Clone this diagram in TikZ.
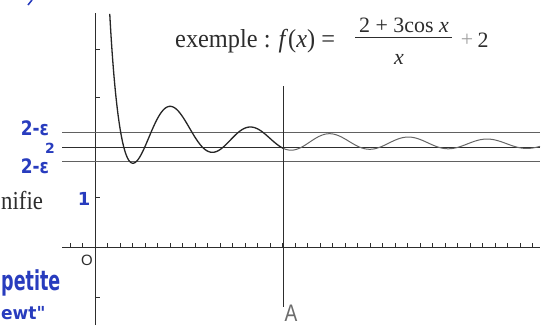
\documentclass[tikz,border=0pt]{standalone}
\usepackage{fontspec}
\setmainfont{Liberation Serif}
\newfontfamily\handf{DejaVu Sans}
\newfontfamily\sansf{Liberation Sans}
\usepackage{graphicx}
\definecolor{ink}{RGB}{40,60,190}
\definecolor{prnt}{RGB}{45,45,45}
\tikzset{
  axisline/.style={draw=prnt, line width=0.9bp},
  tickline/.style={draw=prnt, line width=0.8bp},
  hline/.style={draw=prnt, line width=0.9bp},
  hlinefaint/.style={draw=prnt!75, line width=0.8bp},
  curveA/.style={draw=black!85, line width=1.3bp},
  curveB/.style={draw=black!60, line width=1.0bp},
  printtext/.style={text=prnt, inner sep=0pt, font=\fontsize{26}{28}\selectfont},
  formula/.style={text=prnt, inner sep=0pt, font=\fontsize{22}{24}\selectfont},
  handtext/.style={text=ink, inner sep=0pt, font=\handf\bfseries\fontsize{20}{22}\selectfont},
}
\begin{document}
\begin{tikzpicture}[x=1bp,y=-1bp]
\useasboundingbox (0,0) rectangle (550,325);
\fill[white] (0,0) rectangle (550,325);

% axes
\coordinate (yb) at (95,325);
\coordinate (yt) at (95,13);
\coordinate (xl) at (62,247);
\coordinate (xr) at (540,247);
\draw[axisline] (yb) -- (yt);
\draw[axisline] (xl) -- (xr);
\foreach \i in {-2,...,35} \draw[tickline] (95+12.5*\i,247) -- ++(0,-4);
\foreach \yy in {49,97,197,297} \draw[tickline] (95,\yy) -- ++(5,0);

% horizontal lines 2+eps, 2, 2-eps
\coordinate (hta) at (62,132.7); \coordinate (htb) at (540,132.7);
\coordinate (hma) at (62,147.3); \coordinate (hmb) at (540,147.3);
\coordinate (hba) at (62,161.7); \coordinate (hbb) at (540,161.7);
\draw[hlinefaint] (hta) -- (htb);
\draw[hline] (hma) -- (hmb);
\draw[hlinefaint] (hba) -- (hbb);

% vertical line A
\coordinate (va) at (283,86);
\coordinate (vb) at (283,307);
\draw[axisline] (va) -- (vb);

% curve
\draw[curveA] plot[domain=1.18:15.1, samples=400, smooth] ({95+12.5*\x},{247-50*((2+3*cos(\x r))/\x+2)});
\draw[curveB] plot[domain=15.1:35.6, samples=300, smooth] ({95+12.5*\x},{247-50*((2+3*cos(\x r))/\x+2)});

% title formula
\node[printtext, anchor=base west] (title) at (175,47) {\scalebox{0.94}[1]{exemple : \textit{f}(\textit{x}) =}};
\node[formula, anchor=base] (num) at (404,32) {2 + 3cos \textit{x}};
\coordinate (bara) at (355,37); \coordinate (barb) at (452,37);
\draw[draw=prnt, line width=1bp] (bara) -- (barb);
\node[formula, anchor=base] (den) at (399,64) {\textit{x}};
\node[formula, anchor=base, text=prnt!45] (plus) at (467,46) {+};
\node[formula, anchor=base] (two) at (483,47) {2};

% side print text
\node[printtext, anchor=base west] (nifie) at (1,209) {\scalebox{0.88}[1]{nifie}};
\node[text=prnt, inner sep=0pt, font=\sansf\fontsize{15}{16}\selectfont] (zero) at (87,260) {O};
\node[text=prnt!70, inner sep=0pt, font=\sansf\fontsize{24}{26}\selectfont] (A) at (291,313) {\scalebox{0.8}[1]{A}};

% handwritten labels
\node[handtext] (epsTop) at (35,128) {\scalebox{0.85}[1]{2-ε}};
\node[handtext, font=\handf\bfseries\fontsize{14}{15}\selectfont] (two2) at (50,148) {2};
\node[handtext] (epsBot) at (35,166) {\scalebox{0.85}[1]{2-ε}};
\node[handtext, font=\handf\bfseries\fontsize{18}{20}\selectfont] (one) at (84,199) {1};
\node[handtext, anchor=base west, font=\handf\bfseries\fontsize{22}{24}\selectfont] (petite) at (1,290) {\scalebox{0.8}[1.25]{petite}};
\node[handtext, anchor=base west, font=\handf\bfseries\fontsize{18}{20}\selectfont] (eut) at (1,319) {\scalebox{0.95}[1]{ewt"}};
\coordinate (scra) at (28,5); \coordinate (scrb) at (32,0);
\draw[draw=ink, line width=1.5bp] (scra) -- (scrb);
\end{tikzpicture}
\end{document}
